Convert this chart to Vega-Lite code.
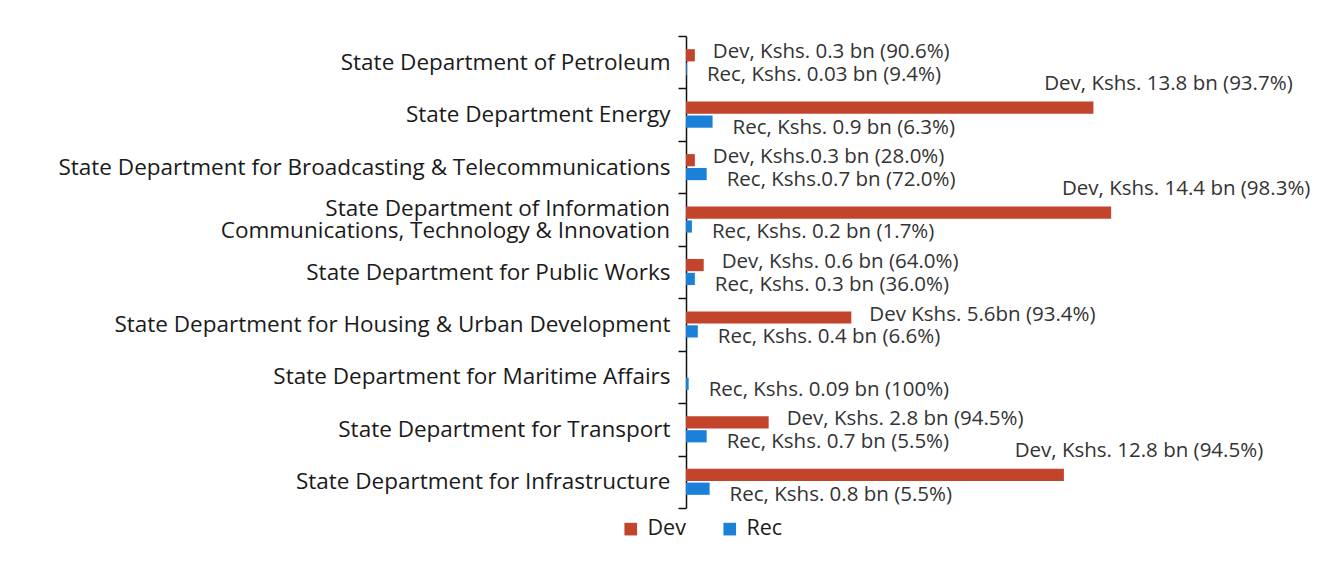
{
  "$schema": "https://vega.github.io/schema/vega-lite/v6.json",
  "autosize": {"type": "none"},
  "width": 620,
  "height": 472,
  "padding": {"left": 686, "top": 36, "right": 30, "bottom": 53},
  "background": "white",
  "config": {
    "view": {"stroke": null},
    "font": "Open Sans"
  },
  "data": {
    "values": [
      {"dept": "State Department of Petroleum", "series": "Dev", "value": 0.3, "label": "Dev, Kshs. 0.3 bn (90.6%)"},
      {"dept": "State Department of Petroleum", "series": "Rec", "value": 0.03, "label": "Rec, Kshs. 0.03 bn (9.4%)"},
      {"dept": "State Department Energy", "series": "Dev", "value": 13.8, "label": "Dev, Kshs. 13.8 bn (93.7%)"},
      {"dept": "State Department Energy", "series": "Rec", "value": 0.9, "label": "Rec, Kshs. 0.9 bn (6.3%)"},
      {"dept": "State Department for Broadcasting & Telecommunications", "series": "Dev", "value": 0.3, "label": "Dev, Kshs.0.3 bn (28.0%)"},
      {"dept": "State Department for Broadcasting & Telecommunications", "series": "Rec", "value": 0.7, "label": "Rec, Kshs.0.7 bn (72.0%)"},
      {"dept": "State Department of Information|Communications, Technology & Innovation", "series": "Dev", "value": 14.4, "label": "Dev, Kshs. 14.4 bn (98.3%)"},
      {"dept": "State Department of Information|Communications, Technology & Innovation", "series": "Rec", "value": 0.2, "label": "Rec, Kshs. 0.2 bn (1.7%)"},
      {"dept": "State Department for Public Works", "series": "Dev", "value": 0.6, "label": "Dev, Kshs. 0.6 bn (64.0%)"},
      {"dept": "State Department for Public Works", "series": "Rec", "value": 0.3, "label": "Rec, Kshs. 0.3 bn (36.0%)"},
      {"dept": "State Department for Housing & Urban Development", "series": "Dev", "value": 5.6, "label": "Dev Kshs. 5.6bn (93.4%)"},
      {"dept": "State Department for Housing & Urban Development", "series": "Rec", "value": 0.4, "label": "Rec, Kshs. 0.4 bn (6.6%)"},
      {"dept": "State Department for Maritime Affairs", "series": "Rec", "value": 0.09, "label": "Rec, Kshs. 0.09 bn (100%)"},
      {"dept": "State Department for Transport", "series": "Dev", "value": 2.8, "label": "Dev, Kshs. 2.8 bn (94.5%)"},
      {"dept": "State Department for Transport", "series": "Rec", "value": 0.7, "label": "Rec, Kshs. 0.7 bn (5.5%)"},
      {"dept": "State Department for Infrastructure", "series": "Dev", "value": 12.8, "label": "Dev, Kshs. 12.8 bn (94.5%)"},
      {"dept": "State Department for Infrastructure", "series": "Rec", "value": 0.8, "label": "Rec, Kshs. 0.8 bn (5.5%)"}
    ]
  },
  "encoding": {
    "y": {
      "field": "dept",
      "type": "nominal",
      "sort": null,
      "scale": {"paddingInner": 0, "paddingOuter": 0},
      "axis": {
        "title": null,
        "tickBand": "extent",
        "domainColor": "#111",
        "domainWidth": 1.5,
        "tickColor": "#111",
        "tickWidth": 1.5,
        "tickSize": 8,
        "labelPadding": 8,
        "labelFont": "Open Sans",
        "labelFontSize": 22.5,
        "labelColor": "#1a1a1a",
        "labelLimit": 700,
        "labelExpr": "indexof(datum.label, '|') >= 0 ? '' : datum.label"
      }
    },
    "yOffset": {
      "field": "series",
      "type": "nominal",
      "scale": {"domain": ["Dev", "Rec"], "paddingOuter": 0.95, "paddingInner": 0.12}
    },
    "x": {
      "field": "value",
      "type": "quantitative",
      "scale": {"domain": [0, 21], "nice": false, "zero": true},
      "axis": null
    }
  },
  "layer": [
    {
      "mark": {"type": "bar"},
      "encoding": {
        "color": {
          "field": "series",
          "type": "nominal",
          "scale": {"domain": ["Dev", "Rec"], "range": ["#C2452B", "#1B80D8"]},
          "legend": {
            "title": null,
            "orient": "none",
            "direction": "horizontal",
            "legendX": -66,
            "legendY": 482,
            "symbolType": "square",
            "symbolSize": 160,
            "symbolStrokeWidth": 0,
            "labelFont": "Open Sans",
            "labelFontSize": 21.5,
            "labelOffset": 6,
            "labelColor": "#1a1a1a",
            "columnPadding": 33,
            "padding": 0
          }
        }
      }
    },
    {
      "transform": [{"filter": "datum.series == 'Dev' && indexof(datum.dept, '|') >= 0"}],
      "mark": {"type": "text", "align": "right", "baseline": "middle", "dx": -16, "dy": -11, "lineBreak": "|", "lineHeight": 22, "fontSize": 22.5, "color": "#1a1a1a", "font": "Open Sans"},
      "encoding": {
        "x": {"datum": 0},
        "yOffset": {"value": 26.2},
        "text": {"field": "dept"}
      }
    },
    {
      "transform": [{"filter": "datum.series == 'Rec'"}],
      "mark": {"type": "text", "align": "left", "baseline": "middle", "dx": 20, "dy": 6, "fontSize": 20.5, "color": "#333333", "font": "Open Sans"},
      "encoding": {"text": {"field": "label"}}
    },
    {
      "transform": [{"filter": "datum.series == 'Dev' && datum.value < 10"}],
      "mark": {"type": "text", "align": "left", "baseline": "middle", "dx": 18, "dy": -3, "fontSize": 20.5, "color": "#333333", "font": "Open Sans"},
      "encoding": {"text": {"field": "label"}}
    },
    {
      "transform": [{"filter": "datum.series == 'Dev' && datum.value >= 10"}],
      "mark": {"type": "text", "align": "center", "baseline": "middle", "dx": 75, "dy": -24, "fontSize": 20.5, "color": "#333333", "font": "Open Sans"},
      "encoding": {"text": {"field": "label"}}
    }
  ]
}
